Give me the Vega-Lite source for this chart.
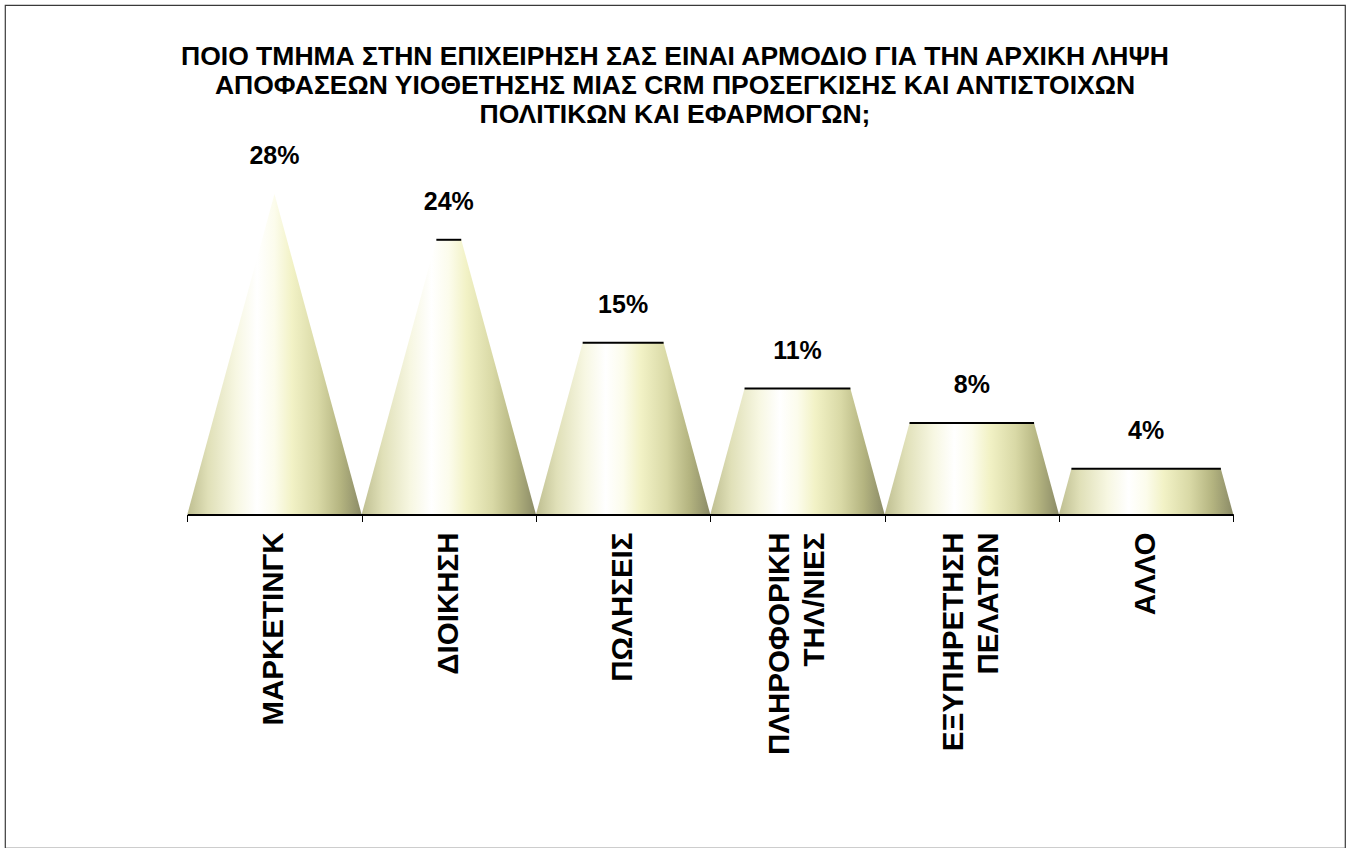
{
  "$schema": "https://vega.github.io/schema/vega-lite/v6.json",
  "width": 1340,
  "height": 843,
  "autosize": {"type": "none"},
  "padding": {"left": 5, "top": 5, "right": 6, "bottom": 0},
  "background": "#ffffff",
  "config": {
    "font": "Liberation Sans",
    "view": {"stroke": "#3a3a3a", "strokeWidth": 1.2}
  },
  "title": {
    "text": [
      "ΠΟΙΟ ΤΜΗΜΑ ΣΤΗΝ ΕΠΙΧΕΙΡΗΣΗ ΣΑΣ ΕΙΝΑΙ ΑΡΜΟΔΙΟ ΓΙΑ ΤΗΝ ΑΡΧΙΚΗ ΛΗΨΗ",
      "ΑΠΟΦΑΣΕΩΝ ΥΙΟΘΕΤΗΣΗΣ ΜΙΑΣ CRM ΠΡΟΣΕΓΚΙΣΗΣ ΚΑΙ ΑΝΤΙΣΤΟΙΧΩΝ",
      "ΠΟΛΙΤΙΚΩΝ ΚΑΙ ΕΦΑΡΜΟΓΩΝ;"
    ],
    "anchor": "middle",
    "frame": "group",
    "offset": -123,
    "font": "Liberation Sans",
    "fontSize": 26.5,
    "fontWeight": "bold",
    "lineHeight": 29,
    "color": "#000000"
  },
  "data": {
    "values": [
      {"area": "ΜΑΡΚΕΤΙΝΓΚ", "share": 28},
      {"area": "ΔΙΟΙΚΗΣΗ", "share": 24},
      {"area": "ΠΩΛΗΣΕΙΣ", "share": 15},
      {"area": "ΠΛΗΡΟΦΟΡΙΚΗ ΤΗΛ/ΝΙΕΣ", "share": 11},
      {"area": "ΕΞΥΠΗΡΕΤΗΣΗ ΠΕΛΑΤΩΝ", "share": 8},
      {"area": "ΑΛΛΟ", "share": 4}
    ]
  },
  "transform": [
    {"window": [{"op": "row_number", "as": "rank"}], "sort": [{"field": "share", "order": "descending"}]},
    {"joinaggregate": [{"op": "max", "field": "share", "as": "peak"}]},
    {"calculate": "datum.rank - 1", "as": "slot"},
    {"calculate": "datum.slot + 0.5", "as": "mid"},
    {"calculate": "datum.slot + 0.5 * datum.share / datum.peak", "as": "topLeft"},
    {"calculate": "datum.slot + 1 - 0.5 * datum.share / datum.peak", "as": "topRight"},
    {"calculate": "datum.share / 100", "as": "pct"}
  ],
  "layer": [
    {
      "transform": [
        {"calculate": "0", "as": "ground"},
        {"fold": ["ground", "share"], "as": ["edge", "level"]},
        {"calculate": "datum.slot + 0.5 - 0.5 * (1 - datum.level / datum.peak)", "as": "left"},
        {"calculate": "datum.slot + 0.5 + 0.5 * (1 - datum.level / datum.peak)", "as": "right"}
      ],
      "mark": {
        "type": "area",
        "orient": "horizontal",
        "color": {
          "gradient": "linear",
          "x1": 0, "y1": 0, "x2": 1, "y2": 0,
          "stops": [
            {"offset": 0, "color": "#bebe90"},
            {"offset": 0.12, "color": "#e0e0b8"},
            {"offset": 0.28, "color": "#f7f7e2"},
            {"offset": 0.4, "color": "#ffffff"},
            {"offset": 0.5, "color": "#fcfcec"},
            {"offset": 0.6, "color": "#f2f2c6"},
            {"offset": 0.75, "color": "#d9d9a6"},
            {"offset": 0.88, "color": "#b4b480"},
            {"offset": 1, "color": "#8a8a66"}
          ]
        }
      },
      "encoding": {
        "y": {
          "field": "level",
          "type": "quantitative",
          "scale": {"range": [509.5, 189], "nice": false, "zero": true},
          "axis": null
        },
        "x": {
          "field": "left",
          "type": "quantitative",
          "scale": {"domain": [0, 6], "range": [182.3, 1228.3], "nice": false},
          "axis": {
            "values": [0, 1, 2, 3, 4, 5, 6],
            "labels": false,
            "grid": false,
            "title": null,
            "offset": -333.5,
            "domainColor": "#000000",
            "domainWidth": 2,
            "tickColor": "#000000",
            "tickWidth": 1,
            "tickSize": 7,
            "zindex": 1
          }
        },
        "x2": {"field": "right"},
        "detail": {"field": "area"}
      }
    },
    {
      "mark": {"type": "rule", "color": "#000000", "strokeWidth": 2},
      "encoding": {
        "x": {"field": "topLeft", "type": "quantitative"},
        "x2": {"field": "topRight"},
        "y": {"field": "share", "type": "quantitative"}
      }
    },
    {
      "mark": {
        "type": "text",
        "fontSize": 25,
        "fontWeight": "bold",
        "baseline": "alphabetic",
        "align": "center",
        "dy": -30,
        "color": "#000000"
      },
      "encoding": {
        "x": {"field": "mid", "type": "quantitative"},
        "y": {"field": "share", "type": "quantitative"},
        "text": {"field": "pct", "type": "quantitative", "format": ".0%"}
      }
    },
    {
      "transform": [{"filter": "indexof(datum.area, ' ') < 0"}],
      "mark": {
        "type": "text",
        "fontSize": 29.5,
        "fontWeight": "bold",
        "angle": 270,
        "align": "right",
        "baseline": "middle",
        "dx": -18,
        "color": "#000000"
      },
      "encoding": {
        "x": {"field": "mid", "type": "quantitative"},
        "y": {"datum": 0, "type": "quantitative"},
        "text": {"field": "area", "type": "nominal"}
      }
    },
    {
      "transform": [{"filter": "indexof(datum.area, ' ') >= 0"}],
      "mark": {
        "type": "text",
        "fontSize": 29.5,
        "fontWeight": "bold",
        "angle": 270,
        "align": "right",
        "baseline": "middle",
        "lineBreak": " ",
        "lineHeight": 35,
        "dx": -18,
        "dy": -17.5,
        "color": "#000000"
      },
      "encoding": {
        "x": {"field": "mid", "type": "quantitative"},
        "y": {"datum": 0, "type": "quantitative"},
        "text": {"field": "area", "type": "nominal"}
      }
    }
  ]
}
